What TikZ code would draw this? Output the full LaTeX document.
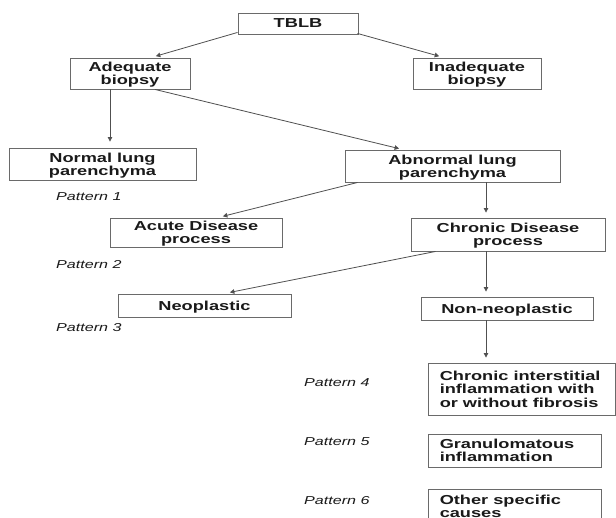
\documentclass[tikz,border=0pt]{standalone}
\usepackage{fontspec}
\setmainfont{Liberation Sans}[FakeStretch=1.4]
\usetikzlibrary{arrows.meta,calc}
\definecolor{boxgray}{HTML}{6A6A6A}
\definecolor{arrgray}{HTML}{505050}
\definecolor{txt}{HTML}{1A1A1A}
\begin{document}
\begin{tikzpicture}[x=1pt,y=1pt,
  box/.style={draw=boxgray, line width=0.9pt, inner sep=0pt, align=center, text=txt,
    text depth=0pt, font=\bfseries\fontsize{13}{13.4}\selectfont},
  ltext/.style={anchor=west, inner sep=0pt, align=left, text=txt,
    text depth=0pt, font=\bfseries\fontsize{13}{13.4}\selectfont},
  pat/.style={anchor=west, inner sep=0pt, text=txt, font=\itshape\fontsize{11.5}{12}\selectfont},
  arr/.style={draw=arrgray, line width=0.8pt, -{Triangle[length=4.5pt,width=4.5pt]}, shorten >=5pt}]
\useasboundingbox (0,0) rectangle (616,-518);
\clip (0,0) rectangle (616,-518);
\fill[white] (0,0) rectangle (616,-518);

\node[box, minimum width=120pt, minimum height=21pt] (tblb) at (298,-23.5) {TBLB};
\node[box, minimum width=120pt, minimum height=31pt] (adeq) at (130,-73.5) {Adequate\\biopsy};
\node[box, minimum width=128pt, minimum height=31pt] (inad) at (477,-73.5) {Inadequate\\biopsy};
\node[box, minimum width=187pt, minimum height=32pt] (norm) at (102.5,-164) {Normal lung\\parenchyma};
\node[box, minimum width=215pt, minimum height=32pt] (abn) at (452.5,-166) {Abnormal lung\\parenchyma};
\node[box, minimum width=172pt, minimum height=29pt] (acute) at (196,-232.5) {Acute Disease\\process};
\node[box, minimum width=194pt, minimum height=33pt] (chron) at (508,-234.5) {Chronic Disease\\process};
\node[box, minimum width=173pt, minimum height=23pt] (neo) at (204.5,-305.5) {Neoplastic};
\node[box, minimum width=172pt, minimum height=23pt] (nonneo) at (507,-308.5) {Non-neoplastic};

\node[box, minimum width=187pt, minimum height=52pt] (cif) at (521.5,-389) {};
\node[ltext] (ciftext) at ($(cif.west)+(12,0)$)
  {Chronic interstitial\\inflammation with\\or without fibrosis};
\node[box, minimum width=173pt, minimum height=33pt] (gran) at (514.5,-450.5) {};
\node[ltext] (grantext) at ($(gran.west)+(12,0)$) {Granulomatous\\inflammation};
\node[box, minimum width=173pt, minimum height=34pt] (other) at (514.5,-506) {};
\node[ltext] (othertext) at ($(other.west)+(12,0)$) {Other specific\\causes};

\node[pat] (p1) at (56,-197) {Pattern 1};
\node[pat] (p2) at (56,-265) {Pattern 2};
\node[pat] (p3) at (56,-328) {Pattern 3};
\node[pat] (p4) at (304,-383) {Pattern 4};
\node[pat] (p5) at (304,-442) {Pattern 5};
\node[pat] (p6) at (304,-501) {Pattern 6};

\coordinate (a3) at ($(adeq.south)+(-20,0)$);
\coordinate (a6) at ($(abn.south)+(33.5,0)$);
\coordinate (a8) at ($(chron.south)+(-22,0)$);
\coordinate (a9) at ($(nonneo.south)+(-21,0)$);

\draw[arr] ($(tblb.south west)+(0,2)$) -- ($(adeq.north)+(21,0)$);
\draw[arr] ($(tblb.south east)+(-1,1)$) -- ($(inad.north)+(-33,0)$);
\draw[arr, shorten >=6pt] (a3) -- (a3 |- norm.north);
\draw[arr, shorten >=4pt] ($(adeq.south)+(25,0)$) -- ($(abn.north)+(-49.5,0)$);
\draw[arr] ($(abn.south west)+(13,0)$) -- ($(acute.north)+(22,0)$);
\draw[arr] (a6) -- (a6 |- chron.north);
\draw[arr, shorten >=6pt] ($(chron.south west)+(25,0)$) -- ($(neo.north)+(19.5,0)$);
\draw[arr] (a8) -- (a8 |- nonneo.north);
\draw[arr] (a9) -- (a9 |- cif.north);
\end{tikzpicture}
\end{document}
